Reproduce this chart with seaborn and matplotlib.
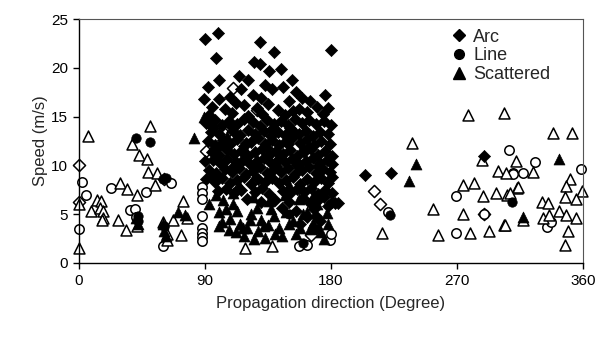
import matplotlib
matplotlib.use("Agg")
import matplotlib.pyplot as plt
import seaborn as sns
from matplotlib.lines import Line2D

# filled markers (legend series)
arc_dir = [90, 99, 129, 180, 98, 139, 125, 129, 136, 144, 114, 152, 121, 100,
           92, 133, 138, 116, 124, 176, 159, 89, 100, 146, 108, 112, 130, 155,
           150, 165, 95, 104, 118, 127, 135, 142, 157, 163, 170, 178, 93, 109,
           121, 131, 147, 153, 174,
           91, 97, 102, 107, 113, 118, 124, 129, 134, 139, 144, 149, 154, 159,
           164, 169, 175, 180, 94, 100, 110, 115, 121, 126, 132, 137, 142, 147,
           152, 157, 162, 167, 172, 178,
           92, 97, 103, 108, 113, 118, 123, 128, 133, 138, 143, 148, 153, 158,
           163, 168, 173, 179, 95, 100, 106, 111, 116, 121, 126, 131, 136, 141,
           146, 151, 156, 161, 166, 171, 176, 181,
           90, 96, 101, 106, 112, 117, 122, 127, 132, 137, 142, 147, 152, 157,
           162, 167, 172, 177, 181, 93, 98, 104, 109, 114, 119, 124, 129, 134,
           139, 144, 149, 154, 159, 164, 169, 174, 179,
           91, 97, 102, 108, 113, 118, 123, 128, 133, 138, 143, 148, 153, 158,
           163, 168, 173, 178, 181, 99, 105, 111, 116, 126, 131, 136, 146, 151,
           156, 161, 166, 171, 176, 181,
           120, 130, 140, 150, 160, 165, 170, 175, 181, 145, 155, 168, 178, 183,
           163, 172, 158, 185, 169,
           104, 119, 134, 149, 164, 111, 126, 141, 156, 171, 96, 109, 138, 151,
           204, 223, 289]
arc_speed = [23.0, 23.6, 22.6, 21.8, 21.0, 21.6, 20.6, 20.4, 19.7, 19.9, 19.2, 18.8, 18.7, 18.7,
             18.0, 18.2, 17.8, 17.8, 17.2, 17.2, 16.9, 16.8, 16.8, 18.0, 17.0, 16.4, 16.9, 17.5,
             16.6, 16.6, 16.0, 15.8, 16.2, 15.9, 16.3, 15.7, 15.8, 15.5, 16.0, 15.9, 15.2, 15.4,
             15.1, 15.3, 15.2, 15.6, 15.3,
             14.3, 14.7, 14.1, 14.6, 14.2, 14.8, 14.4, 14.0, 14.7, 14.2, 14.6, 14.1, 14.8, 14.3,
             14.7, 14.2, 14.6, 14.1, 13.4, 13.2, 13.5, 13.1, 13.6, 13.2, 13.5, 13.0, 13.4, 13.1,
             13.6, 13.2, 13.5, 13.0, 13.4, 13.2,
             12.5, 12.1, 12.6, 12.2, 12.7, 12.0, 12.4, 12.8, 12.2, 12.6, 12.1, 12.5, 12.9, 12.3,
             12.7, 12.1, 12.5, 12.2, 11.4, 11.1, 11.6, 11.2, 11.5, 11.0, 11.4, 11.7, 11.1, 11.5,
             11.2, 11.6, 11.0, 11.4, 11.7, 11.1, 11.5, 11.0,
             10.4, 10.6, 10.2, 10.7, 10.3, 10.6, 10.1, 10.5, 10.8, 10.2, 10.6, 10.3, 10.7, 10.1,
             10.5, 10.8, 10.2, 10.6, 10.1, 9.5, 9.2, 9.6, 9.3, 9.7, 9.1, 9.4, 9.8, 9.2,
             9.6, 9.3, 9.7, 9.1, 9.5, 9.8, 9.2, 9.6, 9.3,
             8.6, 8.3, 8.7, 8.2, 8.5, 8.8, 8.1, 8.6, 8.3, 8.7, 8.2, 8.5, 8.8, 8.1,
             8.6, 8.3, 8.7, 8.2, 8.8, 7.4, 7.6, 7.2, 7.5, 7.3, 7.7, 7.1, 7.4, 7.2,
             7.6, 7.3, 7.7, 7.1, 7.5, 7.2,
             6.6, 6.2, 6.5, 6.3, 6.7, 6.1, 6.4, 6.8, 6.3, 5.6, 5.3, 5.5, 5.8, 6.1,
             4.7, 4.3, 4.0, 6.1, 4.8,
             11.9, 12.3, 11.8, 12.2, 11.9, 9.9, 10.0, 9.9, 10.0, 9.9, 13.8, 13.9, 13.7, 13.8,
             9.0, 9.2, 11.0]

line_dir = [41, 51, 60, 42, 42, 61, 222, 309, 100, 150, 170, 160, 62]
line_speed = [12.8, 12.4, 8.6, 4.8, 4.3, 3.8, 4.9, 6.2, 12.0, 5.0, 3.5, 2.0, 8.7]

scat_dir = [82, 89, 95, 41, 42, 60, 61, 62, 71, 76, 236, 241, 343, 317,
            103, 105, 108, 110, 112, 115, 118, 120, 123, 125, 128, 130, 133, 135,
            137, 140, 95, 98, 100, 96, 145, 150, 155, 160, 165, 170, 175, 178,
            93, 100, 114, 126, 142, 150, 160, 172, 106, 119,
            102, 107, 113, 117, 122, 127, 132, 139, 143, 148, 153, 158, 163, 167,
            173, 177, 110, 124, 136, 147, 157, 168]
scat_speed = [12.8, 15.0, 14.4, 4.6, 4.0, 4.0, 3.3, 2.8, 5.2, 4.9, 8.4, 10.1, 10.7, 4.7,
              6.5, 5.5, 4.5, 6.0, 3.2, 4.0, 2.8, 3.6, 5.0, 2.5, 3.3, 4.4, 2.6, 3.9,
              5.5, 3.0, 9.0, 7.0, 5.2, 12.0, 2.8, 4.0, 3.0, 5.0, 3.5, 6.0, 2.5, 4.0,
              6.0, 3.8, 8.0, 9.0, 11.0, 8.0, 12.0, 10.0, 13.0, 11.5,
              4.2, 3.4, 5.3, 3.6, 4.4, 5.6, 3.8, 4.8, 3.6, 5.2, 4.3, 3.6, 5.2, 4.1,
              3.2, 5.1, 7.2, 6.8, 6.4, 7.0, 6.6, 7.1]

# hollow markers (not in legend)
arc_o_dir = [0, 0, 211, 215, 289, 166, 110, 127, 104, 91, 61]
arc_o_speed = [10.0, 6.3, 7.4, 6.0, 5.0, 2.9, 17.9, 15.7, 13.2, 11.5, 8.6]

line_o_dir = [2.4, 4.8, 0, 23, 36.4, 40, 48, 65.7, 59.8, 87.6, 87.6, 87.6, 87.6,
              87.6, 87.6, 87.6, 87.6, 162.6, 179, 180, 221, 269.3, 269.3, 307,
              309.8, 310, 317, 325.7, 334, 337, 358.3, 289, 41, 157]
line_o_speed = [8.3, 7.0, 3.5, 7.7, 5.4, 5.5, 7.3, 8.2, 1.75, 7.8, 7.2, 6.6, 4.8,
                3.6, 3.1, 2.7, 2.3, 1.85, 2.4, 3.0, 5.2, 6.9, 3.05, 11.6,
                9.2, 9.1, 9.2, 10.3, 3.7, 4.2, 9.6, 5.0, 4.7, 1.7]

scat_o_dir = [6.6, 0, 0, 8.3, 13, 16, 15, 17, 17.4, 16.5, 29, 34, 28, 33.6,
              41.7, 41.7, 37.6, 50.7, 42.9, 48.8, 49.5, 56, 54, 60, 62.6, 63, 67,
              74, 73, 77, 118.6, 137.6, 113, 216.6, 238, 253, 256.6, 278, 303.8,
              287.6, 299.5, 312, 274.5, 282.4, 288.8, 297.9, 306, 312.6, 274.5,
              279, 293, 303.8, 338.8, 352, 324.5, 305, 313.8, 350.7, 348, 359,
              347, 355, 308, 330.5, 335, 317, 331.7, 336, 343, 348, 355, 349.5,
              347, 304]
scat_o_speed = [13.0, 6.0, 1.5, 5.3, 6.5, 6.4, 5.6, 5.3, 4.6, 4.4, 8.2, 7.6, 4.4, 3.4,
                7.0, 3.8, 12.2, 14.0, 11.1, 10.7, 9.3, 9.2, 8.0, 4.2, 2.4, 3.0, 4.4,
                6.4, 2.9, 4.6, 1.5, 1.7, 7.7, 3.05, 12.3, 5.5, 2.9, 15.2, 15.4,
                10.6, 9.4, 10.4, 8.0, 8.2, 6.9, 7.2, 7.0, 7.7, 5.0,
                3.05, 3.3, 3.9, 13.3, 13.3, 9.3, 9.2, 7.8, 8.6, 7.9, 7.4,
                6.8, 6.6, 7.2, 6.3, 6.1, 4.4, 4.6, 4.9, 5.3, 4.9, 4.6, 3.3,
                1.85, 3.9]


def main():
    sns.set_style("ticks")
    plt.rcParams["font.family"] = ["Liberation Sans", "DejaVu Sans"]

    fig = plt.figure(figsize=(6.1, 3.4), dpi=100)
    ax = fig.add_axes([0.1295, 0.2265, 0.8262, 0.7176])

    sizes = {"D": 38, "o": 46, "^": 62}
    hollow = [("D", arc_o_dir, arc_o_speed), ("o", line_o_dir, line_o_speed),
              ("^", scat_o_dir, scat_o_speed)]
    for m, xs, ys in hollow:
        sns.scatterplot(x=xs, y=ys, marker=m, s=sizes[m], color="white",
                        edgecolor="black", linewidth=1.1, clip_on=False, ax=ax)

    filled = [("D", arc_dir, arc_speed), ("o", line_dir, line_speed),
              ("^", scat_dir, scat_speed)]
    for m, xs, ys in filled:
        sns.scatterplot(x=xs, y=ys, marker=m, s=sizes[m], color="black",
                        edgecolor="black", linewidth=0.5, clip_on=False, ax=ax)

    ax.set_xlim(0, 360)
    ax.set_ylim(0, 25)
    ax.set_xticks([0, 90, 180, 270, 360])
    ax.set_yticks([0, 5, 10, 15, 20, 25])
    ax.tick_params(direction="out", length=4, width=1, labelsize=11,
                   color="black", labelcolor="black", pad=4)
    for side in ["left", "bottom"]:
        ax.spines[side].set_color("black")
        ax.spines[side].set_linewidth(1.0)
    for side in ["top", "right"]:
        ax.spines[side].set_visible(True)
        ax.spines[side].set_color("#555555")
        ax.spines[side].set_linewidth(0.8)

    ax.set_xlabel("Propagation direction (Degree)", fontsize=12, labelpad=6)
    ax.set_ylabel("Speed (m/s)", fontsize=12, labelpad=2)

    handles = [
        Line2D([], [], marker="D", color="black", linestyle="", markersize=6),
        Line2D([], [], marker="o", color="black", linestyle="", markersize=7),
        Line2D([], [], marker="^", color="black", linestyle="", markersize=8),
    ]
    ax.legend(handles, ["Arc", "Line", "Scattered"], loc="upper left",
              bbox_to_anchor=(0.725, 0.99), frameon=False, fontsize=13,
              handlelength=0.8, handletextpad=0.4, labelspacing=0.1,
              borderaxespad=0)

    fig.savefig("out.png", dpi=100)


if __name__ == "__main__":
    main()
